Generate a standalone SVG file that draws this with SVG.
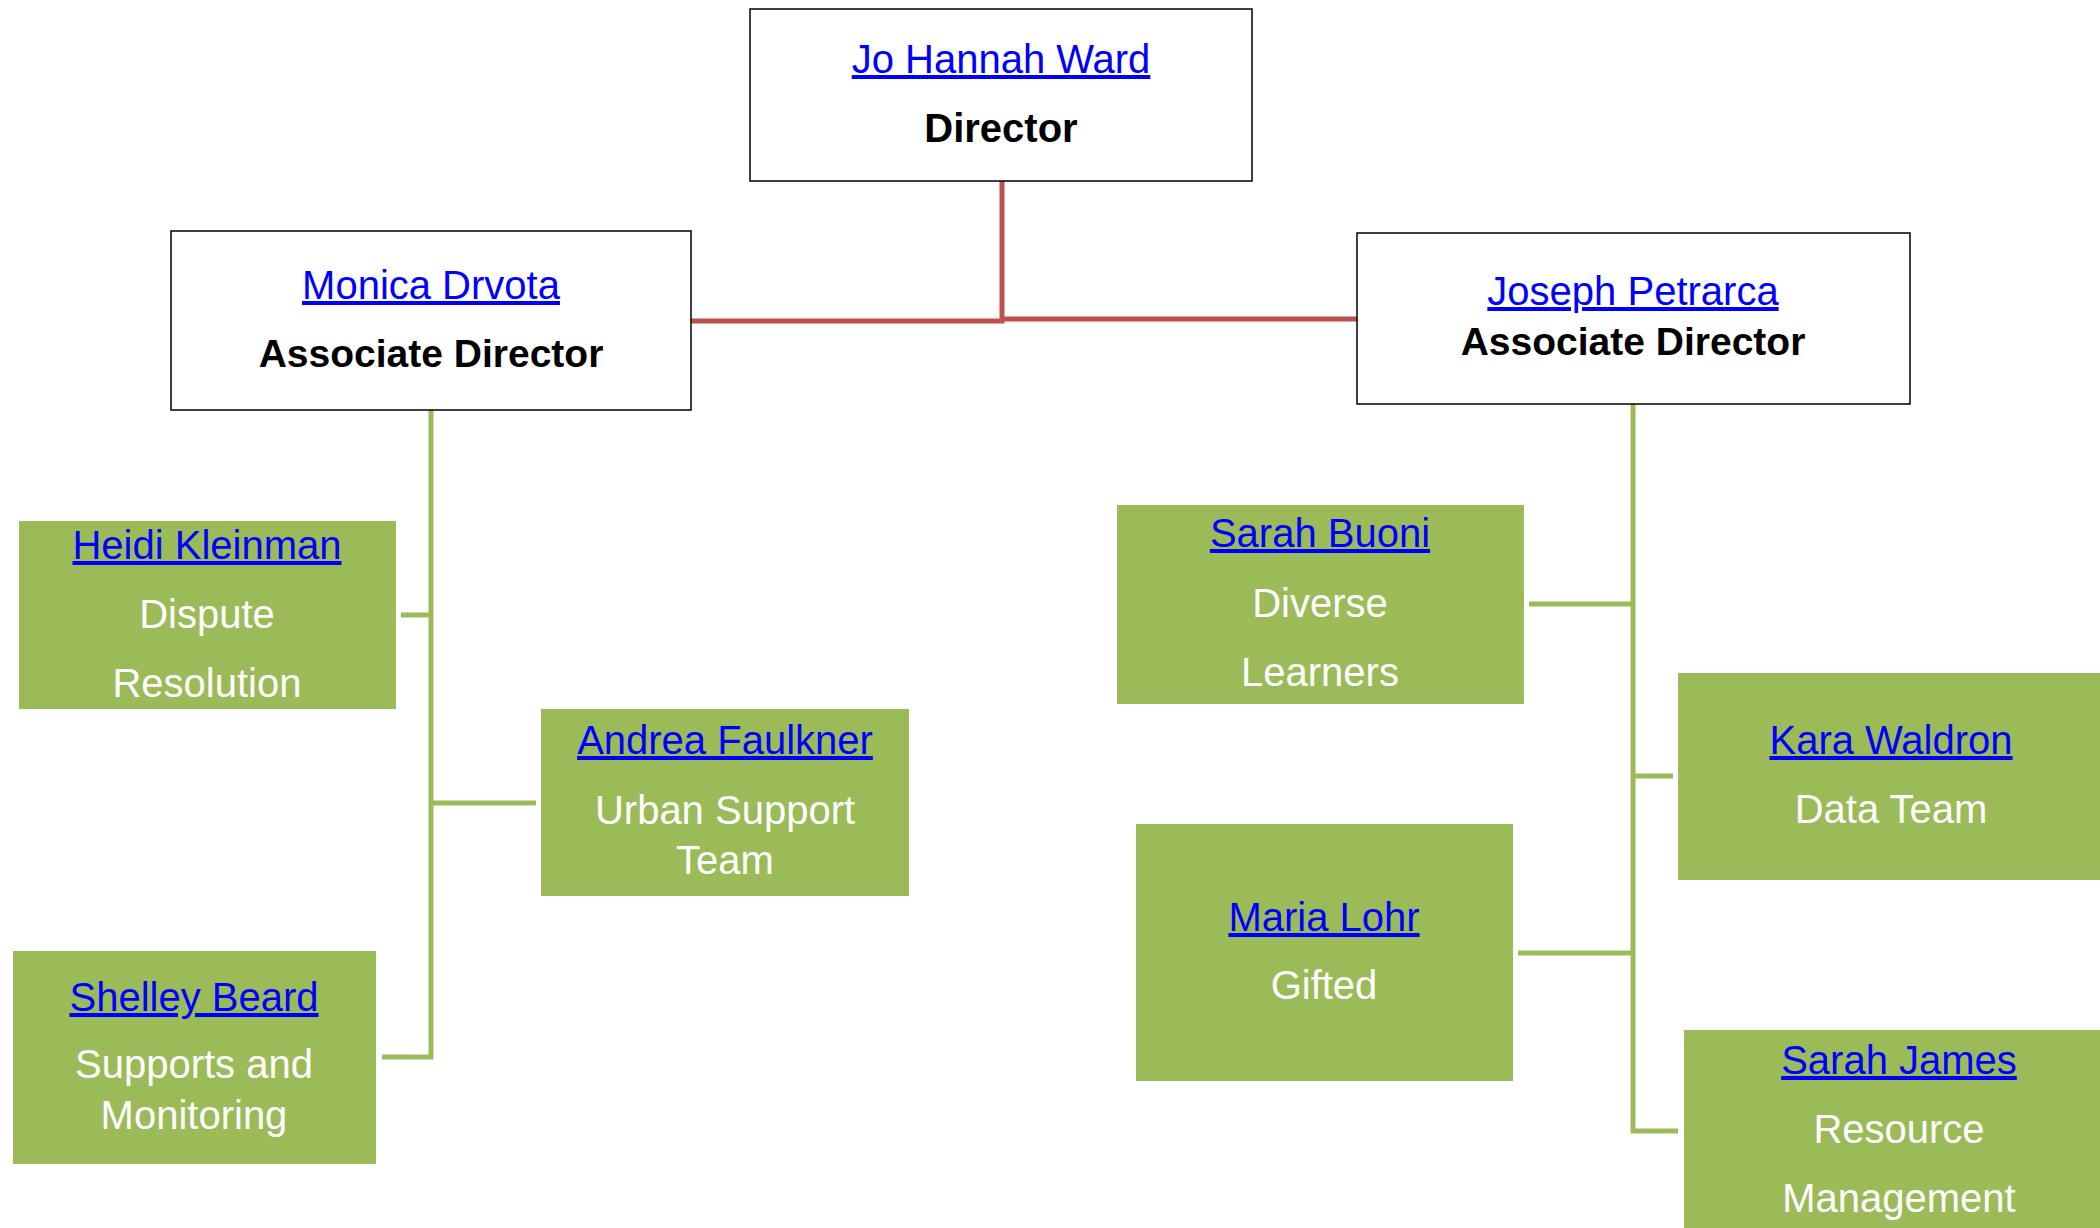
<svg xmlns="http://www.w3.org/2000/svg" width="2100" height="1228" viewBox="0 0 2100 1228">
<style>
text{font-family:"Liberation Sans",Arial,sans-serif;font-size:40px;text-anchor:middle}
.name{fill:#0000FF;text-decoration:underline}
.title{fill:#000;font-weight:bold}
.sub{fill:#FFFFFF}
.wbox{fill:#FFFFFF;stroke:#000;stroke-width:1.5}
.gbox{fill:#9BBB59}
.red{fill:none;stroke:#C0504D;stroke-width:5}
.grn{fill:none;stroke:#9BBB59;stroke-width:5}
</style>
<rect width="2100" height="1228" fill="#FFFFFF"/>
<g id="connectors">
<polyline class="red" points="1002,181 1002,321 691,321"/>
<polyline class="red" points="1002,319 1357,319"/>
<polyline class="grn" points="431,410 431,1057 382,1057"/>
<line class="grn" x1="431" y1="615" x2="401" y2="615"/>
<line class="grn" x1="431" y1="803" x2="536" y2="803"/>
<polyline class="grn" points="1633,404 1633,1131 1678,1131"/>
<line class="grn" x1="1633" y1="604" x2="1529" y2="604"/>
<line class="grn" x1="1633" y1="776" x2="1673" y2="776"/>
<line class="grn" x1="1633" y1="953" x2="1518" y2="953"/>
</g>
<g id="director">
<rect class="wbox" x="750" y="9" width="502" height="172"/>
<text class="name" x="1001" y="73">Jo Hannah Ward</text>
<text class="title" x="1001" y="142">Director</text>
</g>
<g id="monica">
<rect class="wbox" x="171" y="231" width="520" height="179"/>
<text class="name" x="431" y="299">Monica Drvota</text>
<text class="title" x="431" y="367" style="font-size:39px">Associate Director</text>
</g>
<g id="joseph">
<rect class="wbox" x="1357" y="233" width="553" height="171"/>
<text class="name" x="1633" y="305">Joseph Petrarca</text>
<text class="title" x="1633" y="355" style="font-size:39px">Associate Director</text>
</g>
<g id="heidi">
<rect class="gbox" x="19" y="521" width="377" height="188"/>
<text class="name" x="207" y="559">Heidi Kleinman</text>
<text class="sub" x="207" y="628">Dispute</text>
<text class="sub" x="207" y="697">Resolution</text>
</g>
<g id="andrea">
<rect class="gbox" x="541" y="709" width="368" height="187"/>
<text class="name" x="725" y="754">Andrea Faulkner</text>
<text class="sub" x="725" y="824">Urban Support</text>
<text class="sub" x="725" y="874">Team</text>
</g>
<g id="shelley">
<rect class="gbox" x="13" y="951" width="363" height="213"/>
<text class="name" x="194" y="1011">Shelley Beard</text>
<text class="sub" x="194" y="1078">Supports and</text>
<text class="sub" x="194" y="1129">Monitoring</text>
</g>
<g id="sarahbuoni">
<rect class="gbox" x="1117" y="505" width="407" height="199"/>
<text class="name" x="1320" y="547">Sarah Buoni</text>
<text class="sub" x="1320" y="617">Diverse</text>
<text class="sub" x="1320" y="686">Learners</text>
</g>
<g id="kara">
<rect class="gbox" x="1678" y="673" width="430" height="207"/>
<text class="name" x="1891" y="754">Kara Waldron</text>
<text class="sub" x="1891" y="823">Data Team</text>
</g>
<g id="maria">
<rect class="gbox" x="1136" y="824" width="377" height="257"/>
<text class="name" x="1324" y="931">Maria Lohr</text>
<text class="sub" x="1324" y="999">Gifted</text>
</g>
<g id="sarahjames">
<rect class="gbox" x="1684" y="1030" width="430" height="210"/>
<text class="name" x="1899" y="1074">Sarah James</text>
<text class="sub" x="1899" y="1143">Resource</text>
<text class="sub" x="1899" y="1212">Management</text>
</g>
</svg>
